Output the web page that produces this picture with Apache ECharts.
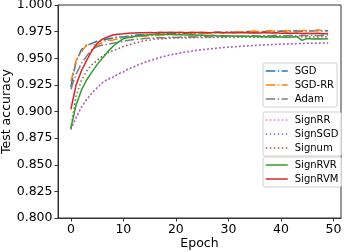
<!DOCTYPE html>
<html>
<head>
<meta charset="utf-8">
<script src="https://cdn.jsdelivr.net/npm/echarts@6/dist/echarts.min.js"></script>
<style>
html,body{margin:0;padding:0;background:#fff;}
#c{width:344px;height:252px;}
</style>
</head>
<body>
<div id="c"></div>
<script>
const epochs = Array.from({length: 50}, (_, i) => i);
const xTicks = [0, 10, 20, 30, 40, 50];
const yTicks = [0.800, 0.825, 0.850, 0.875, 0.900, 0.925, 0.950, 0.975, 1.000];

const sgd = [.923,.947,.958,.962,.964,.966,.967,.968,.969,.970,.970,.971,.9715,.972,.9718,.9722,.9725,.973,.9728,.9732,
  .9735,.973,.9738,.9735,.974,.9738,.9742,.974,.9745,.9742,.9748,.9745,.975,.9746,.9752,.9748,.9752,.975,.9755,.975,
  .9756,.9752,.9755,.9758,.9752,.9757,.9755,.976,.9755,.9758];
const sgdRR = [.928,.948,.956,.9625,.963,.962,.965,.967,.967,.9685,.969,.970,.9695,.971,.9705,.9715,.971,.972,.9718,.9725,
  .972,.9728,.9732,.9725,.9735,.9738,.973,.974,.9745,.9738,.9748,.9742,.975,.9745,.9752,.9755,.9748,.9755,.9758,.9752,
  .976,.9755,.9762,.9758,.976,.9762,.9758,.9765,.976,.9765];
const adam = [.921,.935,.945,.952,.958,.961,.9625,.963,.964,.965,.966,.967,.9675,.968,.9685,.9688,.969,.9695,.969,.9698,
  .9695,.970,.9698,.9702,.970,.9705,.970,.9702,.9705,.9702,.9708,.9705,.971,.9705,.9712,.9708,.971,.9712,.9708,.9715,
  .971,.9712,.9715,.971,.9715,.9712,.9718,.9712,.9715,.9718];
const signRR = [.884,.895,.904,.9115,.9175,.9225,.927,.9305,.9325,.9355,.9375,.9405,.942,.9445,.946,.948,.9495,.951,.952,.9535,
  .9542,.9552,.956,.957,.9576,.9582,.9586,.9592,.9596,.9601,.9605,.9608,.9612,.9614,.9618,.9621,.9623,.9626,.9628,.9631,
  .9633,.9634,.9636,.9638,.9639,.9641,.9641,.9643,.9643,.9644];
const signSGD = [.883,.894,.904,.911,.917,.922,.927,.930,.932,.935,.937,.940,.942,.944,.946,.9475,.949,.9505,.952,.953,
  .954,.955,.9558,.9566,.9574,.958,.9585,.959,.9595,.960,.9603,.9607,.961,.9613,.9616,.962,.9622,.9625,.9627,.963,
  .9632,.9633,.9635,.9637,.9638,.964,.964,.9642,.9642,.9643];
const signum = [.884,.915,.929,.938,.944,.948,.952,.955,.957,.959,.961,.9625,.964,.9652,.9665,.967,.968,.968,.9685,.969,
  .969,.9692,.969,.9693,.9695,.9692,.9695,.9694,.9696,.9695,.9697,.9695,.9698,.9696,.9698,.9697,.9699,.9697,.97,.9698,
  .97,.9699,.97,.9698,.9701,.97,.9701,.97,.9702,.97];
const signRVR = [.8845,.906,.920,.9296,.937,.944,.950,.956,.961,.965,.9685,.9695,.9705,.971,.9715,.972,.9722,.9725,.9722,.9725,
  .9722,.972,.9718,.972,.9715,.9718,.9712,.9715,.971,.9712,.9708,.971,.9705,.9708,.9705,.9706,.9702,.9705,.970,.9703,
  .970,.9698,.970,.9705,.9668,.9685,.968,.9682,.968,.9682];
const signRVM = [.902,.925,.938,.948,.957,.964,.968,.970,.9718,.9726,.973,.9735,.9738,.974,.974,.9742,.974,.9745,.9742,.9745,
  .9742,.9745,.974,.9745,.9742,.9745,.974,.9742,.9745,.974,.9742,.9738,.974,.9742,.9738,.974,.9738,.9742,.9738,.974,
  .9735,.9738,.9735,.9738,.9732,.9735,.9732,.9735,.973,.9733];

const FONT = 'DejaVu Sans';
const dashdot = [9.6, 2.4, 1.5, 2.4];
const dotted = [1.5, 2.5];

function mk(name, data, color, type) {
  return {
    name, type: 'line', data: epochs.map((e, i) => [e, data[i]]),
    symbol: 'none', showSymbol: false, animation: false,
    lineStyle: {color, width: 1.5, type},
    itemStyle: {color}
  };
}

const series = [
  mk('SGD', sgd, '#1f77b4', dashdot),
  mk('SGD-RR', sgdRR, '#ff7f0e', dashdot),
  mk('Adam', adam, '#7f7f7f', dashdot),
  mk('SignRR', signRR, '#e377c2', dotted),
  mk('SignSGD', signSGD, '#9467bd', dotted),
  mk('Signum', signum, '#8c564b', dotted),
  mk('SignRVR', signRVR, '#2ca02c', 'solid'),
  mk('SignRVM', signRVM, '#d62728', 'solid')
];

function legend(names, top) {
  return {
    data: names, orient: 'vertical', left: 263, top,
    padding: [3, 3, 3, 2], itemGap: 4, itemWidth: 22, itemHeight: 10,
    borderColor: '#d0d0d0', borderWidth: 1, borderRadius: 2,
    backgroundColor: 'rgba(255,255,255,0.8)',
    itemStyle: {color: 'rgba(0,0,0,0)', borderWidth: 0, opacity: 0},
    lineStyle: {width: 1.5, opacity: 1},
    textStyle: {fontFamily: FONT, fontSize: 10, color: '#000', padding: [0,0,0,2]},
    selectedMode: false
  };
}

const chart = echarts.init(document.getElementById('c'), null, {renderer: 'canvas'});
chart.setOption({
  animation: false,
  backgroundColor: '#fff',
  grid: {left: 58, right: 3, top: 5, bottom: 34, show: true, borderColor: '#333', borderWidth: 1,
    backgroundColor: 'transparent', containLabel: false, outerBoundsMode: 'none'},
  xAxis: {
    type: 'value', min: -2.45, max: 51.45,
    name: 'Epoch', nameLocation: 'middle', nameGap: 19, nameMoveOverlap: false,
    nameTextStyle: {fontFamily: FONT, fontSize: 12.5, color: '#000'},
    axisLine: {show: true, onZero: false, lineStyle: {color: '#333', width: 1}},
    axisTick: {show: true, length: 3.5, lineStyle: {color: '#333'}, customValues: xTicks},
    axisLabel: {fontFamily: FONT, fontSize: 12.5, color: '#000', margin: 5.5, customValues: xTicks},
    splitLine: {show: false}
  },
  yAxis: {
    type: 'value', min: 0.8, max: 1.0, interval: 0.025,
    name: 'Test accuracy', nameLocation: 'middle', nameGap: 45, nameRotate: 90, nameMoveOverlap: false,
    nameTextStyle: {fontFamily: FONT, fontSize: 12.5, color: '#000'},
    axisLine: {show: true, onZero: false, lineStyle: {color: '#333', width: 1}},
    axisTick: {show: true, length: 3.5, lineStyle: {color: '#333'}, customValues: yTicks},
    axisLabel: {fontFamily: FONT, fontSize: 12.5, color: '#000', margin: 5.5, customValues: yTicks,
      formatter: v => v.toFixed(3)},
    splitLine: {show: false}
  },
  legend: [
    legend(['SGD', 'SGD-RR', 'Adam'], 63),
    legend(['SignRR', 'SignSGD', 'Signum'], 112),
    legend(['SignRVR', 'SignRVM'], 157)
  ],
  series
});
</script>
</body>
</html>
